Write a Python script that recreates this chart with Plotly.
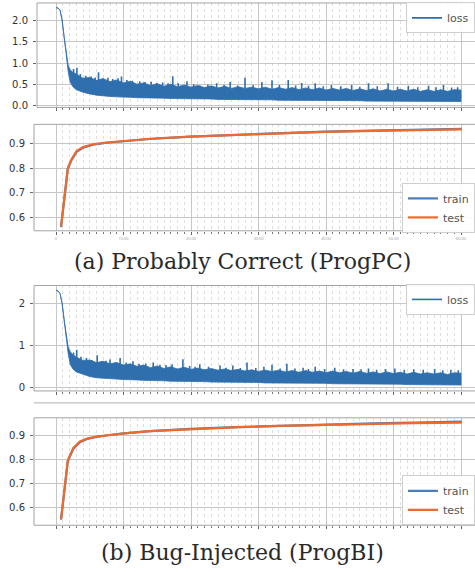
import plotly.graph_objects as go

# ---------------- data ----------------
EPOCH_TICKS = [0, 10, 20, 30, 40, 50, 60]
EPOCH_TICK_TEXT = ["0", "10.00", "20.00", "30.00", "40.00", "50.00", "60.00"]

env_x = [0, 0.3, 0.6, 0.9, 1.2, 1.5, 1.8, 2.1, 2.5] + list(range(3, 61))

loss_a_hi = [2.31, 2.30, 2.25, 2.02, 1.62, 1.22, 0.95, 0.84, 0.78,
             0.74, 0.64, 0.66, 0.59, 0.63, 0.56, 0.60, 0.53, 0.57, 0.50,
             0.53, 0.47, 0.51, 0.45, 0.50, 0.44, 0.48, 0.43, 0.47, 0.42,
             0.46, 0.41, 0.45, 0.40, 0.44, 0.40, 0.43, 0.39, 0.43, 0.38,
             0.42, 0.38, 0.42, 0.37, 0.41, 0.37, 0.41, 0.36, 0.40, 0.36,
             0.40, 0.35, 0.39, 0.35, 0.39, 0.34, 0.38, 0.34, 0.38, 0.34,
             0.38, 0.33, 0.37, 0.33, 0.37, 0.33, 0.37, 0.36]
loss_a_lo = [2.31, 2.30, 2.25, 2.02, 1.62, 1.22, 0.80, 0.55, 0.44,
             0.37, 0.31, 0.27, 0.24, 0.22, 0.21, 0.20, 0.19, 0.19, 0.18,
             0.18, 0.17, 0.17, 0.17, 0.16, 0.16, 0.16, 0.15, 0.15, 0.15,
             0.15, 0.14, 0.14, 0.14, 0.14, 0.13, 0.13, 0.13, 0.13, 0.13,
             0.12, 0.12, 0.12, 0.12, 0.12, 0.12, 0.11, 0.11, 0.11, 0.11,
             0.11, 0.11, 0.11, 0.10, 0.10, 0.10, 0.10, 0.10, 0.10, 0.10,
             0.10, 0.09, 0.09, 0.09, 0.09, 0.09, 0.09, 0.09]
spike_a_x = [2.6, 3.1, 3.6, 4.4, 5.2, 5.8, 6.3, 6.9, 7.7, 8.4,
             9.2, 9.7, 10.5, 11.3, 12.4, 13.2, 14.1, 14.9, 15.8, 16.6,
             17.3, 18.1, 19.4, 20.4, 21.3, 22.5, 23.8, 24.9, 25.8, 26.9,
             28.0, 29.2, 30.5, 32.0, 33.1, 34.4, 35.5, 36.4, 37.4, 38.4,
             39.6, 40.8, 42.2, 43.8, 45.0, 46.3, 47.6, 49.2, 50.6, 52.2,
             53.6, 55.2, 56.3, 57.4, 58.6, 59.5]
spike_a_y = [0.86, 0.89, 0.74, 0.70, 0.68, 0.66, 0.78, 0.64, 0.65, 0.62,
             0.64, 0.68, 0.60, 0.58, 0.57, 0.55, 0.56, 0.53, 0.54, 0.52,
             0.69, 0.52, 0.57, 0.50, 0.47, 0.49, 0.52, 0.48, 0.55, 0.47,
             0.65, 0.48, 0.55, 0.59, 0.48, 0.60, 0.47, 0.53, 0.46, 0.52,
             0.45, 0.48, 0.45, 0.48, 0.44, 0.52, 0.45, 0.52, 0.44, 0.46,
             0.43, 0.46, 0.43, 0.48, 0.42, 0.43]

loss_b_hi = [2.31, 2.29, 2.23, 2.00, 1.62, 1.25, 0.97, 0.86, 0.78,
             0.73, 0.65, 0.66, 0.60, 0.63, 0.57, 0.60, 0.54, 0.57, 0.51,
             0.54, 0.48, 0.52, 0.46, 0.50, 0.45, 0.49, 0.44, 0.47, 0.43,
             0.46, 0.42, 0.45, 0.41, 0.44, 0.40, 0.43, 0.39, 0.42, 0.39,
             0.42, 0.38, 0.41, 0.37, 0.41, 0.37, 0.40, 0.36, 0.40, 0.36,
             0.39, 0.35, 0.39, 0.35, 0.38, 0.34, 0.38, 0.34, 0.37, 0.33,
             0.37, 0.33, 0.36, 0.33, 0.36, 0.32, 0.36, 0.35]
loss_b_lo = [2.31, 2.29, 2.23, 2.00, 1.62, 1.25, 0.82, 0.56, 0.45,
             0.38, 0.32, 0.27, 0.24, 0.23, 0.22, 0.21, 0.20, 0.19, 0.19,
             0.18, 0.18, 0.17, 0.17, 0.16, 0.16, 0.16, 0.15, 0.15, 0.15,
             0.14, 0.14, 0.14, 0.14, 0.13, 0.13, 0.13, 0.13, 0.12, 0.12,
             0.12, 0.12, 0.12, 0.11, 0.11, 0.11, 0.11, 0.11, 0.10, 0.10,
             0.10, 0.10, 0.10, 0.10, 0.09, 0.09, 0.09, 0.09, 0.09, 0.08,
             0.08, 0.08, 0.08, 0.08, 0.08, 0.08, 0.07, 0.07]
spike_b_x = [2.6, 3.07, 3.7, 4.5, 5.3, 6.1, 6.8, 7.4, 8.0, 8.8,
             9.5, 10.4, 11.4, 12.3, 13.3, 14.4, 15.4, 16.3, 17.2, 18.8,
             19.8, 20.6, 21.3, 22.6, 24.3, 25.2, 26.2, 27.3, 28.3, 29.6,
             30.8, 32.0, 33.2, 34.2, 35.4, 36.6, 37.4, 38.4, 39.8, 41.3,
             42.6, 44.0, 45.2, 46.3, 47.5, 48.8, 50.2, 51.6, 53.0, 54.4,
             56.1, 57.3, 58.5, 59.6]
spike_b_y = [0.84, 0.90, 0.74, 0.71, 0.66, 0.77, 0.63, 0.64, 0.67, 0.61,
             0.71, 0.60, 0.63, 0.57, 0.58, 0.60, 0.55, 0.54, 0.56, 0.68,
             0.52, 0.50, 0.56, 0.50, 0.53, 0.48, 0.53, 0.47, 0.60, 0.47,
             0.50, 0.55, 0.46, 0.57, 0.46, 0.48, 0.45, 0.50, 0.45, 0.48,
             0.44, 0.45, 0.44, 0.46, 0.43, 0.45, 0.46, 0.43, 0.44, 0.43,
             0.45, 0.42, 0.43, 0.42]

acc_a_x = [0.75, 1.75, 2.3, 3.05, 4.0, 5.5, 7.5, 10.1, 13.9, 19.9, 26.5, 33, 39.9, 47, 53, 60.1]
acc_a_test = [0.566, 0.800, 0.836, 0.869, 0.885, 0.896, 0.903, 0.909, 0.918, 0.927,
              0.934, 0.940, 0.946, 0.950, 0.953, 0.956]
acc_a_train = [0.563, 0.797, 0.832, 0.865, 0.882, 0.894, 0.902, 0.908, 0.917, 0.927,
               0.934, 0.941, 0.947, 0.951, 0.954, 0.958]

acc_b_x = [0.75, 1.75, 2.55, 3.55, 4.6, 6.0, 8.0, 10.1, 13.9, 19.9, 26.5, 33, 39.9, 47, 53, 60.1]
acc_b_test = [0.551, 0.797, 0.848, 0.876, 0.888, 0.896, 0.903, 0.910, 0.919, 0.928,
              0.935, 0.941, 0.946, 0.950, 0.953, 0.955]
acc_b_train = [0.548, 0.794, 0.844, 0.873, 0.886, 0.895, 0.903, 0.910, 0.919, 0.929,
               0.936, 0.942, 0.948, 0.952, 0.955, 0.959]

caption_a = "(a) Probably Correct (ProgPC)"
caption_b = "(b) Bug-Injected (ProgBI)"

# ---------------- styling ----------------
W, H = 475, 572
BLUE = "#2f6fae"
TRAIN = "#4a7dbd"
TEST = "#ee6a2c"
GRID = "#c6c6c6"
MINOR = "#dedede"
FRAME = "#a3a3a3"


def py(p):
    return 1 - p / H


fig = go.Figure()


def add_loss(xa, ya, hi, lo, sx, sy, leg):
    fig.add_trace(go.Scatter(
        x=env_x + env_x[::-1], y=hi + lo[::-1], mode="lines", fill="toself",
        fillcolor=BLUE, line=dict(color=BLUE, width=0.8), xaxis=xa, yaxis=ya,
        showlegend=False, legendgroup=leg, hoverinfo="skip"))
    xs, ys = [], []
    for x, y in zip(sx, sy):
        xs += [x, x, None]
        ys += [y - 0.25, y, None]
    fig.add_trace(go.Scatter(
        x=xs, y=ys, mode="lines", name="loss", line=dict(color=BLUE, width=1.6),
        xaxis=xa, yaxis=ya, legend=leg, legendgroup=leg))


def add_acc(xa, ya, x, train, test, leg):
    fig.add_trace(go.Scatter(x=x, y=train, mode="lines", name="train",
                             line=dict(color=TRAIN, width=2.2), xaxis=xa, yaxis=ya, legend=leg))
    fig.add_trace(go.Scatter(x=x, y=test, mode="lines", name="test",
                             line=dict(color=TEST, width=2.2), xaxis=xa, yaxis=ya, legend=leg))


add_loss("x", "y", loss_a_hi, loss_a_lo, spike_a_x, spike_a_y, "legend")
add_acc("x2", "y2", acc_a_x, acc_a_train, acc_a_test, "legend2")
add_loss("x3", "y3", loss_b_hi, loss_b_lo, spike_b_x, spike_b_y, "legend3")
add_acc("x4", "y4", acc_b_x, acc_b_train, acc_b_test, "legend4")

X0 = 56.0
PXU = 6.75


def xaxis(left_px, labels=False):
    return dict(
        domain=[left_px / W, 1], range=[-(X0 - left_px) / PXU, (W - X0) / PXU],
        tickvals=EPOCH_TICKS, ticktext=EPOCH_TICK_TEXT, showticklabels=labels,
        tickfont=dict(size=4, color="#9a9a9a"),
        showgrid=True, gridcolor=GRID, gridwidth=1, zeroline=False, showline=False,
        ticks="outside", ticklen=3, tickcolor="#666",
        minor=dict(tickvals=[v for v in range(0, 61) if v % 10], showgrid=True,
                   gridcolor=MINOR, griddash="dot", gridwidth=1,
                   ticks="outside", ticklen=2, tickcolor="#777"),
        fixedrange=True)


def yaxis(top_px, bot_px, rng, vals, text):
    return dict(
        domain=[py(bot_px), py(top_px)], range=rng, tickvals=vals, ticktext=text,
        showgrid=True, gridcolor=GRID, gridwidth=1, zeroline=False, showline=False,
        ticks="outside", ticklen=3, tickcolor="#666", ticklabelstandoff=3,
        tickfont=dict(family="DejaVu Sans", size=10, color="#333"), fixedrange=True)


legend_common = dict(bgcolor="rgba(255,255,255,0.9)", bordercolor="#cfcfcf", borderwidth=1,
                     font=dict(family="DejaVu Sans", size=11, color="#555"),
                     x=1, xanchor="right", yanchor="middle", tracegroupgap=0)

fig.update_layout(
    width=W, height=H, autosize=False, margin=dict(l=0, r=0, t=0, b=0),
    paper_bgcolor="white", plot_bgcolor="white",
    xaxis=dict(xaxis(37), anchor="y"),
    yaxis=dict(yaxis(3, 108, [-0.05, 2.42], [0, 0.5, 1, 1.5, 2], ["0.0", "0.5", "1.0", "1.5", "2.0"]), anchor="x"),
    xaxis2=dict(xaxis(34, labels=True), anchor="y2"),
    yaxis2=dict(yaxis(125, 232, [0.548, 0.976], [0.6, 0.7, 0.8, 0.9], ["0.6", "0.7", "0.8", "0.9"]), anchor="x2"),
    xaxis3=dict(xaxis(34), anchor="y3"),
    yaxis3=dict(yaxis(287, 393, [-0.07, 2.42], [0, 1, 2], ["0", "1", "2"]), anchor="x3"),
    xaxis4=dict(xaxis(34), anchor="y4"),
    yaxis4=dict(yaxis(420, 528, [0.525, 0.975], [0.6, 0.7, 0.8, 0.9], ["0.6", "0.7", "0.8", "0.9"]), anchor="x4"),
    legend=dict(legend_common, y=py(18)),
    legend2=dict(legend_common, y=py(209)),
    legend3=dict(legend_common, y=py(301)),
    legend4=dict(legend_common, y=py(503)),
    showlegend=True,
)

shapes = []
for xr, yr in [("x", "y"), ("x2", "y2"), ("x3", "y3"), ("x4", "y4")]:
    shapes.append(dict(type="rect", xref=xr + " domain", yref=yr + " domain",
                       x0=0, x1=1.06, y0=0, y1=1, line=dict(color=FRAME, width=1), layer="above"))
shapes.append(dict(type="line", xref="paper", yref="paper", x0=34 / W, x1=1.02,
                   y0=py(405), y1=py(405), line=dict(color="#b0b0b0", width=1)))
fig.update_layout(shapes=shapes)

CAP_FONT = dict(family="DejaVu Serif", size=22, color="#2a2a2a")
fig.add_annotation(text=caption_a, xref="paper", yref="paper", x=242 / W, y=py(263),
                   showarrow=False, xanchor="center", yanchor="middle", font=CAP_FONT)
fig.add_annotation(text=caption_b, xref="paper", yref="paper", x=242 / W, y=py(555),
                   showarrow=False, xanchor="center", yanchor="middle", font=CAP_FONT)

fig.write_html("out.html", config={"displayModeBar": False},
               post_script="document.body.style.margin='0';document.body.style.overflow='hidden';")
